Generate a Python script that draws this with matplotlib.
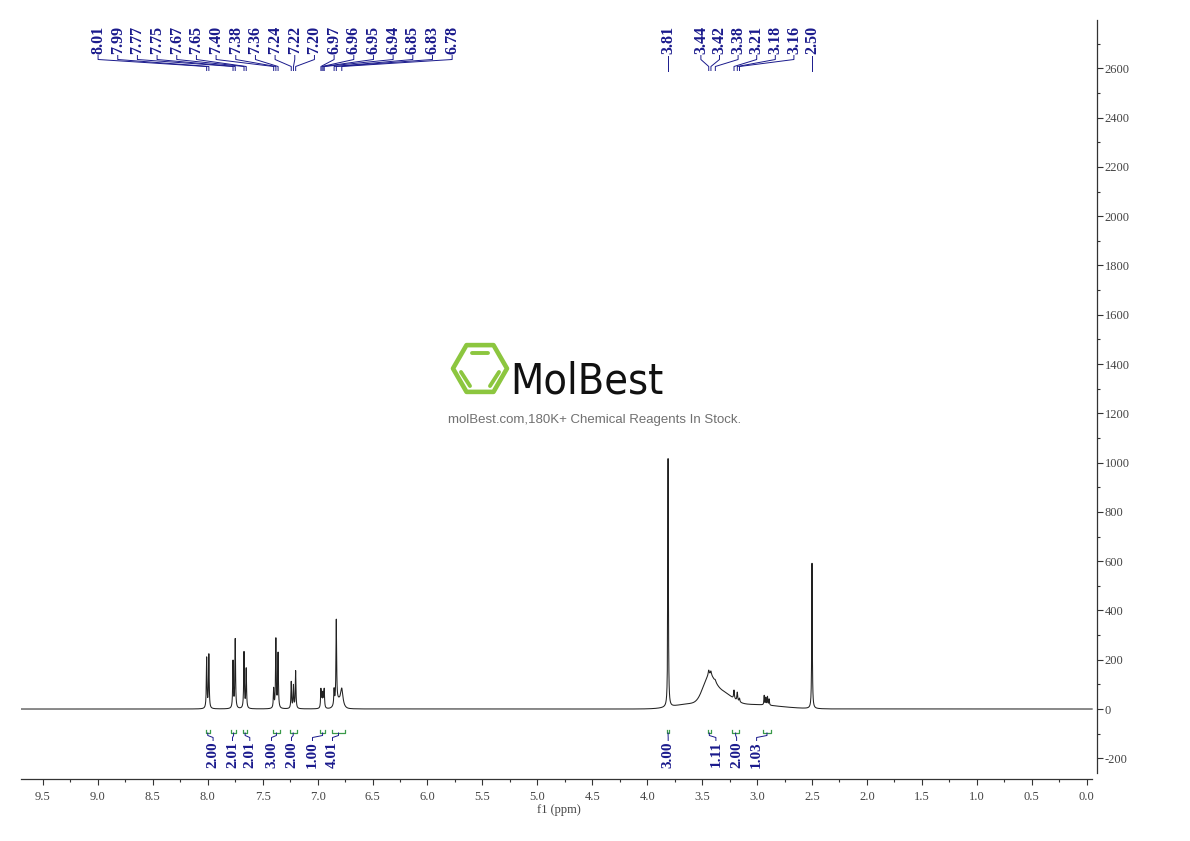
import numpy as np
import matplotlib
matplotlib.use("Agg")
import matplotlib.pyplot as plt
from matplotlib.patches import Polygon
from matplotlib.transforms import blended_transform_factory

# ---------------- data ----------------
# sharp lines: position (ppm), height, half width (ppm)
peak_ppm = [8.01, 7.99, 7.77, 7.75, 7.67, 7.65, 7.40, 7.38, 7.36,
            7.24, 7.22, 7.20, 6.97, 6.96, 6.95, 6.94, 6.85, 6.83, 6.78,
            3.81, 3.44, 3.42, 3.38, 3.21, 3.18, 3.16,
            2.935, 2.92, 2.905, 2.89, 2.50]
peak_height = [205, 218, 190, 280, 228, 160, 78, 280, 222,
               108, 92, 152, 75, 55, 55, 75, 62, 335, 65,
               1010, 22, 18, 8, 35, 35, 15,
               38, 30, 34, 25, 590]
peak_hwhm = [0.0035] * 18 + [0.012] + [0.003, 0.006, 0.006, 0.006, 0.004, 0.004, 0.004,
                                     0.003, 0.003, 0.003, 0.003, 0.003]

# broad components (Gaussian): centre, height, sigma
broad_ppm = [6.81, 3.60, 3.44, 3.32, 3.05]
broad_height = [30, 20, 95, 55, 18]
broad_sigma = [0.03, 0.15, 0.055, 0.09, 0.25]

# peak labels on top
peak_labels = ["8.01", "7.99", "7.77", "7.75", "7.67", "7.65", "7.40", "7.38", "7.36",
               "7.24", "7.22", "7.20", "6.97", "6.96", "6.95", "6.94", "6.85", "6.83", "6.78",
               "3.81", "3.44", "3.42", "3.38", "3.21", "3.18", "3.16", "2.50"]

# integrals
int_start = [8.02, 7.785, 7.68, 7.41, 7.255, 6.98, 6.87, 3.82, 3.45, 3.225, 2.95]
int_end = [7.98, 7.745, 7.64, 7.34, 7.19, 6.93, 6.75, 3.80, 3.42, 3.165, 2.87]
int_values = ["2.00", "2.01", "2.01", "3.00", "2.00", "1.00", "4.01",
              "3.00", "1.11", "2.00", "1.03"]

# axes ticks
x_ticks = [9.5, 9.0, 8.5, 8.0, 7.5, 7.0, 6.5, 6.0, 5.5, 5.0, 4.5, 4.0, 3.5, 3.0, 2.5, 2.0, 1.5, 1.0, 0.5, 0.0]
x_tick_labels = ["9.5", "9.0", "8.5", "8.0", "7.5", "7.0", "6.5", "6.0", "5.5", "5.0",
                 "4.5", "4.0", "3.5", "3.0", "2.5", "2.0", "1.5", "1.0", "0.5", "0.0"]
y_ticks = [-200, 0, 200, 400, 600, 800, 1000, 1200, 1400, 1600, 1800, 2000, 2200, 2400, 2600]
y_tick_labels = ["-200", "0", "200", "400", "600", "800", "1000", "1200", "1400",
                 "1600", "1800", "2000", "2200", "2400", "2600"]

# ---------------- layout ----------------
W, H = 1190, 841
fig = plt.figure(figsize=(W / 100, H / 100), dpi=100)
AX_L, AX_R, AX_T, AX_B = 21, 1097, 20, 779
ax = fig.add_axes([AX_L / W, 1 - AX_B / H, (AX_R - AX_L) / W, (AX_B - AX_T) / H])

XMAX, XMIN = 9.70, -0.094
YMIN, YMAX = -284, 2796
ax.set_xlim(XMAX, XMIN)
ax.set_ylim(YMIN, YMAX)

NAVY = "#1a1a8c"
GREEN = "#3a9a4a"
GREY = "#333333"

# spectrum
x = np.linspace(-0.05, 9.70, 40000)
y = np.zeros_like(x)
for c, h, w in zip(peak_ppm, peak_height, peak_hwhm):
    y += h / (1 + ((x - c) / w) ** 2)
for c, h, s in zip(broad_ppm, broad_height, broad_sigma):
    y += h * np.exp(-0.5 * ((x - c) / s) ** 2)
ax.plot(x, y, color="#222222", lw=0.75)

# spines / ticks
for s in ["top", "left"]:
    ax.spines[s].set_visible(False)
ax.spines["bottom"].set_bounds(XMAX, -0.05)
ax.spines["right"].set_bounds(-260, YMAX)
for s in ["bottom", "right"]:
    ax.spines[s].set_color(GREY)
    ax.spines[s].set_linewidth(0.9)

ax.yaxis.tick_right()
ax.set_xticks(x_ticks)
ax.set_xticklabels(x_tick_labels, family="Liberation Serif", fontsize=9, color="#444444")
ax.set_xticks(np.array(x_ticks[:-1]) - 0.25, minor=True)
ax.set_yticks(y_ticks)
ax.set_yticklabels(y_tick_labels, family="Liberation Serif", fontsize=9, color="#444444")
ax.set_yticks(np.array(y_ticks) + 100, minor=True)
ax.tick_params(axis="x", which="major", direction="out", length=4.5, width=0.8, color=GREY, pad=4)
ax.tick_params(axis="x", which="minor", direction="out", length=2.5, width=0.8, color=GREY)
ax.tick_params(axis="y", which="major", direction="out", length=4, width=0.8, color=GREY, pad=1.5)
ax.tick_params(axis="y", which="minor", direction="out", length=2.5, width=0.8, color=GREY)
ax.set_xlabel("f1 (ppm)", family="Liberation Serif", fontsize=9, color="#444444", labelpad=1)

trans = blended_transform_factory(ax.transData, ax.transAxes)


def yf(py):
    return (AX_B - py) / (AX_B - AX_T)


def px2ppm(px):
    return (1086.7 - px) / 109.84


# peak labels: left group evenly spaced, right group
left_pos = list(np.linspace(px2ppm(98.3), px2ppm(452.3), 19))
right_pos = [3.81] + list(np.linspace(px2ppm(701), px2ppm(794), 6)) + [2.50]
label_pos = left_pos + right_pos
for lab, lx in zip(peak_labels, label_pos):
    p = float(lab)
    ax.text(lx, yf(54), lab, transform=trans, rotation=90, ha="center", va="bottom",
            family="Liberation Serif", fontweight="bold", fontsize=11.5, color=NAVY)
    ax.plot([lx, lx, p, p], [yf(55.5), yf(59.5), yf(66.5), yf(70.5)], transform=trans,
            color=NAVY, lw=0.7, clip_on=False)

# integrals
int_label_pos = [px2ppm(v) for v in [213.3, 232.7, 250, 271.7, 291.7, 312.7, 332.7,
                                      668.3, 716, 736.7, 756.7]]
for a, b, val, lx in zip(int_start, int_end, int_values, int_label_pos):
    ax.plot([a, a, b, b], [yf(729.5), yf(733), yf(733), yf(729.5)], transform=trans,
            color=GREEN, lw=0.9)
    mid = (a + b) / 2
    ax.plot([mid, mid, lx, lx], [yf(733), yf(735.5), yf(737.5), yf(740.5)], transform=trans,
            color=NAVY, lw=0.7)
    ax.text(lx, yf(741), val, transform=trans, rotation=90, ha="center", va="top",
            family="Liberation Serif", fontweight="bold", fontsize=11, color=NAVY)

# ---------------- watermark logo ----------------
ov = fig.add_axes([0, 0, 1, 1], zorder=5)
ov.patch.set_alpha(0)
ov.set_xlim(0, W)
ov.set_ylim(H, 0)
ov.axis("off")
cx, cy, r = 480, 368.5, 27
hexv = [(cx + r * np.cos(np.radians(a)), cy + r * np.sin(np.radians(a))) for a in range(0, 360, 60)]
ov.add_patch(Polygon(hexv, closed=True, fill=False, edgecolor="#8cc63f", lw=3.3, joinstyle="round"))
for (x0, y0), (x1, y1) in [((472, 353), (488, 353)), ((461, 372), (470, 386)), ((490, 386), (499, 372))]:
    ov.plot([x0, x1], [y0, y1], color="#8cc63f", lw=2.8, solid_capstyle="round")
ov.text(510, 393, "MolBest", ha="left", va="baseline", fontsize=31,
        family=["Liberation Sans Narrow", "DejaVu Sans"], fontstretch="condensed", color="#111111")
ov.text(595, 420, "molBest.com,180K+ Chemical Reagents In Stock.", ha="center", va="center",
        fontsize=9.5, family=["Liberation Sans", "DejaVu Sans"], color="#707070")

fig.savefig("out.png", dpi=100)
